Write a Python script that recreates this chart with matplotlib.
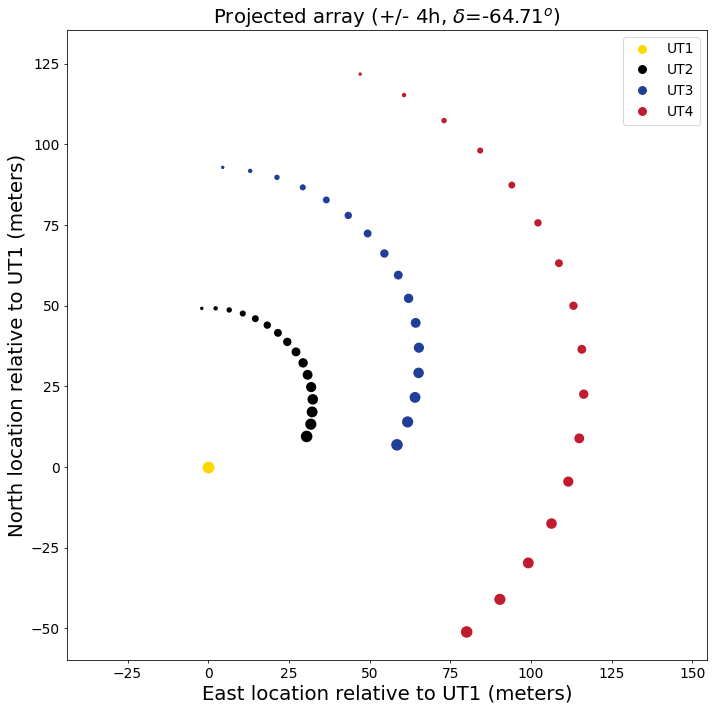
import numpy as np
import matplotlib
matplotlib.use('Agg')
import matplotlib.pyplot as plt
from matplotlib.lines import Line2D

# projected positions (meters) over +/- 4h
ut1_x = [0.0]
ut1_y = [0.0]

ut2_x = [-2.0, 2.3, 6.5, 10.7, 14.6, 18.3, 21.6, 24.5, 27.2, 29.4, 30.8, 31.9, 32.4, 32.2, 31.8, 30.5]
ut2_y = [49.2, 49.2, 48.7, 47.6, 46.0, 44.0, 41.6, 38.8, 35.7, 32.3, 28.6, 24.8, 21.0, 17.1, 13.3, 9.5]

ut3_x = [4.5, 13.0, 21.3, 29.3, 36.6, 43.4, 49.4, 54.6, 58.9, 62.1, 64.3, 65.3, 65.2, 64.1, 61.8, 58.5]
ut3_y = [92.9, 91.8, 89.8, 86.7, 82.8, 78.0, 72.4, 66.2, 59.5, 52.3, 44.7, 37.0, 29.2, 21.6, 14.0, 6.9]

ut4_x = [47.1, 60.7, 73.1, 84.3, 94.1, 102.2, 108.7, 113.2, 115.8, 116.4, 115.0, 111.6, 106.4, 99.2, 90.4, 80.1]
ut4_y = [121.8, 115.3, 107.4, 98.1, 87.4, 75.7, 63.2, 50.0, 36.5, 22.6, 8.9, -4.5, -17.5, -29.7, -41.0, -51.1]

# marker area along the track
track_sizes = [12, 20, 30, 38, 49, 56, 64, 72, 81, 90, 100, 106, 114, 121, 128, 137]
ut1_size = [144]

labels = ['UT1', 'UT2', 'UT3', 'UT4']
colors = ['#ffd700', '#000000', '#213f99', '#c01b2e']

fig = plt.figure(figsize=(10, 10), dpi=71.2)
ax = fig.add_axes([0.094, 0.073, 0.899, 0.885])

tracks = [(ut1_x, ut1_y, ut1_size), (ut2_x, ut2_y, track_sizes),
          (ut3_x, ut3_y, track_sizes), (ut4_x, ut4_y, track_sizes)]
for (x, y, s), c in zip(tracks, colors):
    ax.scatter(x, y, s=s, color=c, linewidths=0)

ax.set_xlim(-43.8, 154.6)
ax.set_ylim(-59.8, 135.5)
ax.set_xticks([-25, 0, 25, 50, 75, 100, 125, 150])
ax.set_yticks([-50, -25, 0, 25, 50, 75, 100, 125])
ax.tick_params(labelsize=14)

ax.set_title(r'Projected array (+/- 4h, $\delta$=-64.71$^o$)', fontsize=20)
ax.set_xlabel('East location relative to UT1 (meters)', fontsize=20)
ax.set_ylabel('North location relative to UT1 (meters)', fontsize=20)

handles = [Line2D([], [], marker='o', ls='', color=c, markersize=8) for c in colors]
ax.legend(handles, labels, loc='upper right', fontsize=14)

fig.savefig('out.png', dpi=71.2)
